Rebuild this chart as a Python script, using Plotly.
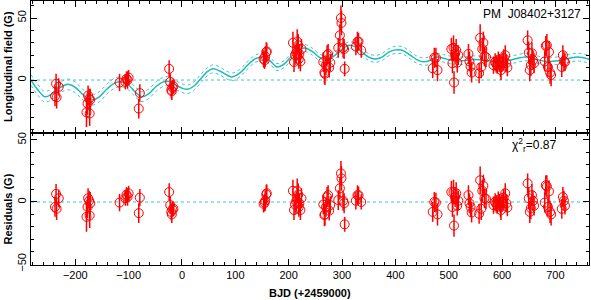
import plotly.graph_objects as go

# ---- observations ----
t_obs = [-238, -236, -235, -231,
         -179, -177, -176, -174, -173, -172,
         -117, -106, -104, -102, -100,
         -81, -79,
         -24, -22, -20, -19, -18, -16,
         153, 155, 156, 158, 159,
         208, 210, 212, 214, 216, 218, 219, 220, 222, 224,
         265, 267, 268, 270, 272, 274, 276, 278,
         293, 296, 298, 299, 302, 304, 305,
         326, 329, 331, 336,
         470, 473, 476, 479,
         505, 507, 509, 510, 512, 514, 516, 518,
         537, 539, 541, 543,
         557, 559, 561, 563, 565, 567, 570,
         584, 587, 589, 591, 593, 595, 597, 598, 600, 602, 603, 606, 608, 610,
         648, 650, 652, 654, 656, 658, 660,
         680, 682, 684, 686, 688, 690, 692,
         712, 714, 716, 718]
B_obs = [-13, -3, -14, -5.5,
         -26, -19, -12.5, -15, -27, -16,
         -2, -1.5, 1, 0, 2,
         -23, -10.5,
         9, -1.5, -8, -9, -6, -5,
         17, 16, 19, 22.5, 23,
         30, 14.5, 20, 22, 31, 28, 17, 21, 15, 25,
         14.5, 6, 5, 12, 20, 21, 10, 14,
         26, 36, 50, 46, 26, 25, 9,
         27, 31, 31, 24,
         9.5, 18, 18, 8,
         25, 13.5, 26, -2, 21, 24, 14, 20,
         21, 15, 11, 6,
         5.5, 34, 10.5, 25, 30, 19, 18.5,
         12, 14.5, 13, 12, 16, 14, 10.5, 8, 13.7, 15, 17.7, 20, 13.7, 10,
         32, 22, 8, 12, 21.5, 16, 13.5,
         15, 27.5, 28, 10.5, 22.5, 6, 4,
         10.5, 20, 15, 14.5]
res_obs = [-4, 6.5, -5.5, 3,
           -12, -4, 3, 1, -11, -1,
           -0.5, 3, 6, 4, 7,
           -9, 3.5,
           8, -2.5, -8, -10, -6, -5.5,
           -1.5, -0.5, 1, 6, 7,
           9, -6.5, -2, 0.5, 9, 6, -4, -1, -6.5, 3,
           -2, -10.5, -10, -4, 4, 5.5, -7, -2.5,
           1.5, 11, 23, 19, 1, -1, -18,
           1, 5.5, 5.5, 0,
           -8, 0, -0.5, -10,
           8, -4, 8, -19, 4, 7, -3, 1,
           5.5, -1, -4, -8.5,
           -9.5, 17.5, -5.5, 9, 13, 3, 2.5,
           -2.5, 0, -1.5, -2.5, 1.5, -0.5, -4, -6.5, -1, 0.5, 3.5, 7, -1, -4.5,
           15, 3, -8, -5, 5.5, 1, -3,
           -0.5, 13.5, 12.5, -4, 8.5, -8, -10,
           -5.5, 4, 1, -3]
err_obs = [8, 8, 9, 7,
           12, 9, 8, 8, 10, 9,
           7, 6, 6, 7, 6,
           8, 7,
           7, 7, 7, 7, 6, 6,
           7, 7, 8, 8, 7,
           9, 8, 8, 8, 10, 9, 8, 8, 8, 8,
           8, 9, 9, 8, 8, 8, 8, 7,
           8, 9, 10, 10, 8, 8, 6,
           7, 8, 7, 6,
           8, 8, 8, 9,
           9, 8, 10, 9, 8, 9, 8, 8,
           8, 8, 8, 8,
           8, 11, 9, 9, 9, 8, 8,
           7, 7, 7, 7, 7, 7, 8, 8, 7, 7, 7, 8, 7, 7,
           8, 9, 9, 9, 9, 8, 8,
           8, 8, 9, 8, 9, 9, 9,
           8, 8, 8, 7]

# ---- model curve ----
t_mod = [-283, -270, -257, -243, -228, -214, -200, -185, -169, -155, -140, -126, -113,
         -100, -88, -75, -62, -48, -35, -25, -12, 0, 10, 22, 35, 47, 58, 70, 82, 94,
         108, 122, 137, 152, 165, 178, 192, 206, 220, 231, 244, 257, 270, 284, 298,
         313, 326, 339, 350, 362, 375, 388, 400, 413, 428, 440, 452, 465, 478, 490,
         500, 516, 530, 546, 560, 575, 597, 620, 645, 665, 685, 710, 741, 765]
B_mod = [0, -8, -13.5, -11, -6, -3.5, -6, -12, -16, -13.5, -7, -2.5, -1.5,
         -4, -9.5, -13.5, -11, -5, -1.5, -1, -4, -6.5, -7.5, -5, 1, 6.5, 9, 7.5, 4.5, 2.5,
         5.5, 11.5, 17, 18.5, 15.5, 10.5, 13, 19.5, 24.5, 25.8, 23, 18.5, 16, 19, 24,
         28, 26.5, 22, 18.5, 17, 18.5, 22.5, 24.3, 24, 20, 16.5, 14.8, 15.8, 18.5, 17.5,
         16.5, 15.3, 15.8, 16.5, 16.2, 15.5, 14.5, 16.5, 18.5, 16.5, 15, 16, 18.5, 16.5]
sig_mod = [4.3, 4.3, 4.3, 4.3, 4.3, 4.3, 4.3, 4.2, 4.2, 4.1, 4.0, 4.0, 4.0,
           4.0, 3.9, 3.9, 3.8, 3.8, 3.7, 3.6, 3.5, 3.5, 3.4, 3.4, 3.3, 3.3, 3.2, 3.2, 3.1, 3.1,
           3.0, 3.0, 2.9, 2.9, 2.8, 2.8, 2.8, 2.8, 2.8, 2.8, 2.8, 2.8, 2.8, 2.8, 2.8,
           2.8, 2.8, 2.8, 2.8, 2.8, 2.8, 2.8, 2.9, 2.9, 2.9, 2.9, 3.0, 3.0, 3.0, 3.0,
           3.0, 3.0, 3.0, 3.0, 3.0, 3.0, 3.0, 3.0, 3.0, 3.0, 3.0, 3.0, 3.1, 3.2]

x_range = [-283, 763]
top_range = [-42.7, 63.7]
bot_range = [-50.8, 55.6]

RED = "#ff0000"
CYAN = "#1dbaba"
CYAN_DOT = "#3cc8c8"
FONT = "Liberation Sans, Arial, sans-serif"

fig = go.Figure()

upper = [b + s for b, s in zip(B_mod, sig_mod)]
lower = [b - s for b, s in zip(B_mod, sig_mod)]

# zero lines
fig.add_trace(go.Scatter(x=x_range, y=[0, 0], mode="lines", xaxis="x2", yaxis="y2",
                         line=dict(color=CYAN_DOT, width=1, dash="dot")))
fig.add_trace(go.Scatter(x=x_range, y=[0, 0], mode="lines", xaxis="x", yaxis="y",
                         line=dict(color=CYAN_DOT, width=1, dash="dot")))
# model band & curve
for arr in (upper, lower):
    fig.add_trace(go.Scatter(x=t_mod, y=arr, mode="lines", xaxis="x2", yaxis="y2",
                             line=dict(color=CYAN_DOT, width=1, dash="dot", shape="spline")))
fig.add_trace(go.Scatter(x=t_mod, y=B_mod, mode="lines", xaxis="x2", yaxis="y2",
                         line=dict(color=CYAN, width=1.5, shape="spline")))


def error_segments(xs, ys, es):
    sx, sy = [], []
    for x, y, e in zip(xs, ys, es):
        sx += [x, x, None]
        sy += [y - e, y + e, None]
    return sx, sy


marker = dict(symbol="circle-open", size=9, color=RED, line=dict(color=RED, width=1))
for yvals, xa, ya in ((B_obs, "x2", "y2"), (res_obs, "x", "y")):
    ex, ey = error_segments(t_obs, yvals, err_obs)
    fig.add_trace(go.Scatter(x=ex, y=ey, mode="lines", xaxis=xa, yaxis=ya,
                             line=dict(color=RED, width=1.5), connectgaps=False))
    fig.add_trace(go.Scatter(x=t_obs, y=yvals, mode="markers", xaxis=xa, yaxis=ya,
                             marker=marker))

axis_common = dict(showline=True, linecolor="black", linewidth=1, mirror="ticks",
                   ticks="inside", ticklen=6, tickcolor="black", tickwidth=1,
                   showgrid=False, zeroline=False, automargin=False,
                   tickfont=dict(family=FONT, size=11, color="black"))
minor_x = dict(dtick=20, ticks="inside", ticklen=3, tickcolor="black", showgrid=False)
minor_y = dict(dtick=10, ticks="inside", ticklen=3, tickcolor="black", showgrid=False)

fig.update_layout(
    template="none",
    width=591, height=300,
    margin=dict(l=31, r=2, t=1, b=35, autoexpand=False),
    paper_bgcolor="white", plot_bgcolor="white",
    showlegend=False,
    hovermode=False,
    xaxis=dict(range=x_range, domain=[0, 1], anchor="y", dtick=100, tick0=0,
               minor=minor_x, **axis_common),
    xaxis2=dict(range=x_range, domain=[0, 1], anchor="y2", matches="x", dtick=100, tick0=0,
                showticklabels=False, minor=minor_x, **axis_common),
    yaxis=dict(range=bot_range, domain=[0, 0.5], anchor="x", dtick=50, tick0=0,
               tickangle=-90, minor=minor_y, **axis_common),
    yaxis2=dict(range=top_range, domain=[0.5, 1], anchor="x2", dtick=50, tick0=0,
                tickangle=-90, minor=minor_y, **axis_common),
)

bold = dict(family=FONT, size=11, color="black")
fig.add_annotation(text="<b>Longitudinal field (G)</b>", xref="paper", yref="paper",
                   x=0, y=0.75, xshift=-23, textangle=-90, showarrow=False, font=bold,
                   xanchor="center", yanchor="middle")
fig.add_annotation(text="<b>Residuals (G)</b>", xref="paper", yref="paper",
                   x=0, y=0.21, xshift=-23, textangle=-90, showarrow=False, font=bold,
                   xanchor="center", yanchor="middle")
fig.add_annotation(text="<b>BJD (+2459000)</b>", xref="paper", yref="paper",
                   x=0.5, y=0, yshift=-28, showarrow=False, font=bold,
                   xanchor="center", yanchor="middle")
fig.add_annotation(text="PM  J08402+3127", xref="x2", yref="y2", x=752, y=53,
                   showarrow=False, xanchor="right", yanchor="middle",
                   font=dict(family=FONT, size=12, color="black"))
fig.add_annotation(text="χ<sup>2</sup><sub>r</sub>=0.87", xref="x", yref="y", x=615, y=46,
                   showarrow=False, xanchor="left", yanchor="middle",
                   font=dict(family=FONT, size=12, color="black"))

fig.write_html("out.html", config={"displayModeBar": False},
               post_script="document.body.style.margin='0';document.body.style.padding='0';")
